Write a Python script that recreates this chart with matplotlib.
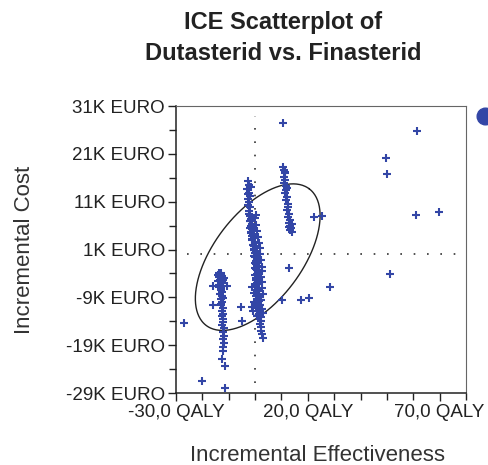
import numpy as np
import matplotlib
matplotlib.use("Agg")
import matplotlib.pyplot as plt

plt.rcParams['font.family'] = ['Liberation Sans', 'DejaVu Sans']

title = "ICE Scatterplot of\nDutasterid vs. Finasterid"
x_label = "Incremental Effectiveness"
y_label = "Incremental Cost"

x_ticks = [-30, 20, 70]
x_tick_labels = ["-30,0 QALY", "20,0 QALY", "70,0 QALY"]
y_ticks = [31, 21, 11, 1, -9, -19, -29]
y_tick_labels = ["31K EURO", "21K EURO", "11K EURO", "1K EURO", "-9K EURO", "-19K EURO", "-29K EURO"]

# Cluster 1 (left)
left_x = [-13.6, -12.8, -13.2, -12.4, -13.8, -12.9, -13.4, -12.6, -13.1, -12.2, -13.5, -12.8, -13.0,
          -12.5, -13.2, -12.7, -12.9, -12.4, -12.8, -12.3, -12.6, -12.1, -12.5, -12.2, -12.0, -12.4,
          -11.9, -12.2, -11.8, -12.1, -11.9, -12.3, -12.0, -13.3, -12.7, -14.2, -11.9, -14.0, -12.0,
          -13.7, -12.9, -12.3, -13.0,
          -16.0, -10.7, -16.0, -5.4, -5.0, -12.6, -11.4, -20.1, -11.4, -27.1]
left_y = [-3.9, -4.0, -4.3, -4.5, -4.7, -5.0, -5.3, -5.6, -5.9, -6.1, -6.4, -6.8, -7.3,
          -7.8, -8.3, -8.8, -9.4, -10.0, -10.6, -11.2, -11.8, -12.4, -13.0, -13.6, -14.2, -14.8,
          -15.4, -16.2, -17.0, -17.8, -18.6, -19.4, -20.2, -4.1, -5.2, -4.4, -4.9, -5.6, -5.4,
          -6.9, -7.5, -9.1, -10.3,
          -6.7, -6.7, -10.6, -11.0, -13.9, -21.9, -23.4, -26.5, -28.0, -14.4]

# Cluster 2 (middle)
mid_x = [-2.6, -2.3, -2.9, -2.4, -2.0, -2.7, -2.2, -2.5, -1.9, -2.2, 0.5, -1.6, -2.8,
         -1.8, -1.4, -2.0, -1.2, -1.7, -1.0, -1.5, -0.8, -1.3, -0.6, -1.1, -0.1, -0.7, 0.2,
         -0.4, 0.4, -0.2, 0.6, 0.0, 0.8, 0.2, 1.2, 0.6, 0.1, 0.9, 1.4, 0.7, 1.1, 0.3, 1.5,
         0.8, 1.2, -1.0, 1.6, 0.9, -0.6, 1.3, 1.7, 1.0, 1.4, 0.2, 1.8, 1.1, 1.5, 2.0, 1.3,
         -1.4, -0.9, -0.3, 0.3, -0.5, 0.5, 1.0, 0.7, 1.9, 1.6,
         -2.4, -0.2, -2.1, 0.3, -1.8, 0.6, -1.6, 1.0, -1.2, 1.3, -0.9, 1.7, -0.6, 2.0,
         -0.3, 2.3, -0.1, 2.5, 0.2, 2.7, 0.0, 2.4, 0.4, 2.6, 0.1, 2.8, 0.6, 2.9, 0.3, 2.2,
         -0.5, 1.9, -1.1, 2.5, -0.7, 3.0, 0.8, 2.1,
         2.2, 1.9, 2.4, 2.1, 2.6, 3.0]
mid_y = [15.3, 14.5, 13.6, 12.9, 12.2, 11.6, 11.0, 10.3, 9.8, 9.0, 8.2, 14.0, 12.5,
         7.9, 7.3, 6.9, 6.4, 5.8, 5.2, 4.7, 4.3, 3.8, 3.3, 2.9, 2.5, 2.0, 1.6,
         1.1, 0.7, 0.3, -0.1, -0.6, -1.0, -1.5, -1.9, -2.4, -2.8, -3.3, -3.7, -4.1, -4.6, -5.0, -5.5,
         -5.9, -6.3, -6.8, -7.2, -7.6, -8.0, -8.5, -8.9, -9.3, -9.8, -10.2, -10.7, -11.2, -11.6, -12.0, -12.5,
         6.0, 4.0, 1.8, -0.3, 0.9, -2.1, -3.9, -6.1, -9.0, -13.0,
         8.5, 7.6, 7.0, 6.2, 5.5, 4.9, 4.4, 3.6, 3.1, 2.3, 1.9, 1.3, 0.8, 0.1,
         -0.4, -1.2, -1.8, -2.6, -3.0, -3.5, -4.3, -4.8, -5.3, -5.8, -6.5, -7.0, -7.4, -8.2, -8.7, -9.5,
         -10.0, -10.5, -11.0, -11.4, -11.9, -12.3, -12.8, -13.2,
         -13.9, -14.6, -15.2, -16.0, -16.6, -17.4]

# Cluster 3 (right)
right_x = [10.4, 10.9, 11.3, 10.8, 11.5, 11.0, 11.6, 11.9, 11.4, 12.1, 11.8, 12.3, 12.6, 12.2,
           12.9, 12.5, 13.1, 12.8, 13.4, 13.7, 13.2, 14.0, 11.2, 12.0, 13.9, 13.0]
right_y = [18.2, 17.6, 16.9, 16.2, 15.5, 14.9, 14.2, 13.4, 12.8, 12.0, 11.3, 10.6, 9.9, 9.2,
           8.5, 7.8, 7.2, 6.6, 6.0, 5.4, 5.0, 4.6, 17.2, 13.9, 6.4, 5.7]

# Scattered points
other_x = [10.6, 22.2, 25.5, 13.0, 28.5, 10.2, 17.5, 20.6, 49.6, 50.2, 61.4, 51.3, 60.9, 69.6]
other_y = [27.4, 7.7, 8.0, -2.9, -6.9, -9.6, -9.6, -9.2, 20.1, 16.7, 25.7, -4.1, 8.3, 8.9]

# Confidence ellipse parameters (data units)
ell_center = (1.0, -0.6)
ell_major = (19.5, 14.3)
ell_minor = (13.4, -5.5)

point_color = "#3346a6"

fig = plt.figure(figsize=(4.89, 4.65), dpi=100)
ax = fig.add_axes([176 / 489, 1 - 393 / 465, (466 - 176) / 489, (393 - 106) / 465])

all_x = left_x + mid_x + right_x + other_x
all_y = left_y + mid_y + right_y + other_y
ax.plot(all_x, all_y, linestyle="none", marker="+", markersize=5.5, mew=1.5,
        color=point_color, zorder=3)

t = np.linspace(0, 2 * np.pi, 300)
ex = ell_center[0] + ell_major[0] * np.cos(t) + ell_minor[0] * np.sin(t)
ey = ell_center[1] + ell_major[1] * np.cos(t) + ell_minor[1] * np.sin(t)
ax.plot(ex, ey, color="#222222", lw=1.0, zorder=2)

# reference lines through origin
ax.plot([0, 0], [-27, 29], color="#333333", lw=1.2, linestyle=(0, (1, 7)), zorder=1)
ax.plot([-26, 78], [0, 0], color="#333333", lw=1.2, linestyle=(0, (1, 7)), zorder=1)

ax.set_xlim(-30, 80)
ax.set_ylim(-29, 31)
ax.set_xticks(x_ticks)
ax.set_xticklabels(x_tick_labels, fontsize=13.5)
ax.set_yticks(y_ticks)
ax.set_yticklabels(y_tick_labels, fontsize=13.5)
ax.set_xticks(np.arange(-30, 81, 10), minor=True)
ax.set_yticks(np.arange(-29, 32, 5), minor=True)
ax.tick_params(which="major", direction="out", length=6, width=1, pad=2, colors="#222222")
ax.tick_params(which="minor", direction="out", length=5, width=1, colors="#222222")
for lab in ax.get_xticklabels() + ax.get_yticklabels():
    lab.set_color("#222222")

for s in ["left", "bottom"]:
    ax.spines[s].set_color("#222222")
    ax.spines[s].set_linewidth(1.1)
for s in ["top", "right"]:
    ax.spines[s].set_color("#666666")
    ax.spines[s].set_linewidth(0.8)

fig.text(283 / 489, 1 - 38 / 465, title, ha="center", va="center", fontsize=17,
         fontweight="bold", linespacing=1.45, color="#222222")
fig.text(318 / 489, 1 - 455 / 465, x_label, ha="center", va="center", fontsize=16, color="#333333")
fig.text(25 / 489, 1 - 250 / 465, y_label, ha="center", va="center", rotation=90,
         fontsize=16, color="#333333")

# partially visible legend marker at the right edge
fig.lines.append(plt.Line2D([485 / 489], [1 - 116 / 465], transform=fig.transFigure,
                            marker="o", markersize=12, color=point_color, linestyle="none"))

fig.savefig("out.png", dpi=100)
